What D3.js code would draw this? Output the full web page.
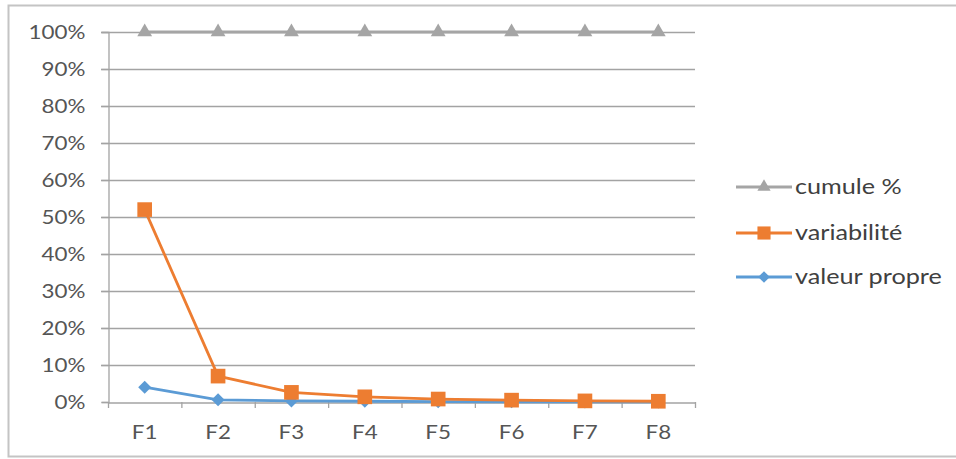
<!DOCTYPE html>
<html>
<head>
<meta charset="utf-8">
<script src="https://cdn.jsdelivr.net/npm/d3@7"></script>
<style>
  html, body { margin: 0; padding: 0; background: #fff; }
  svg { display: block; font-family: Lato, "Open Sans", sans-serif; }
</style>
</head>
<body>
<svg id="chart" width="956" height="459"></svg>
<script>
// Factor labels on the x axis
const categories = ["F1", "F2", "F3", "F4", "F5", "F6", "F7", "F8"];
// Series values, in percent
const cumule = [100, 100, 100, 100, 100, 100, 100, 100];
const variabilite = [52, 7, 2.6, 1.4, 0.8, 0.5, 0.3, 0.2];
const valeurPropre = [4, 0.6, 0.3, 0.2, 0.1, 0.05, 0.03, 0.02];
// Y-axis tick values
const yTicks = [0, 10, 20, 30, 40, 50, 60, 70, 80, 90, 100];

const diamond = {
  draw(ctx, size) {
    const r = Math.sqrt(size) / Math.SQRT2;
    ctx.moveTo(0, -r); ctx.lineTo(r, 0); ctx.lineTo(0, r); ctx.lineTo(-r, 0); ctx.closePath();
  }
};

const series = [
  { name: "cumule %", values: cumule, color: "#A5A5A5", symbol: d3.symbolTriangle, size: 95 },
  { name: "variabilité", values: variabilite, color: "#ED7D31", symbol: d3.symbolSquare, size: 215 },
  { name: "valeur propre", values: valeurPropre, color: "#5B9BD5", symbol: diamond, size: 85 }
];

const svg = d3.select("#chart");

// Horizontal stretch applied to text around its anchor point
function stretch(sel, s) {
  sel.attr("transform", function () {
    const x0 = +this.getAttribute("x") || 0;
    return `translate(${x0 * (1 - s)},0) scale(${s},1)`;
  });
}

// Outer chart frame
svg.append("rect")
  .attr("x", 8.5).attr("y", 5.5)
  .attr("width", 960).attr("height", 451)
  .attr("fill", "#fff")
  .attr("stroke", "#c4c4c4").attr("stroke-width", 2);

const plotLeft = 108, plotRight = 695, plotTop = 32, plotBottom = 402;

const x = d3.scaleBand().domain(categories).range([plotLeft, plotRight]);
const y = d3.scaleLinear().domain([0, 100]).range([plotBottom, plotTop]);

const axisColor = "#a3a3a3";
const textColor = "#555555";

// Horizontal gridlines
svg.append("g")
  .selectAll("line")
  .data(yTicks.filter(d => d > 0))
  .join("line")
  .attr("x1", plotLeft - 7).attr("x2", plotRight)
  .attr("y1", d => y(d) + 0.5).attr("y2", d => y(d) + 0.5)
  .attr("stroke", axisColor).attr("stroke-width", 1.3);

// Y axis
const yAxis = svg.append("g")
  .attr("transform", `translate(${plotLeft + 0.5},0)`)
  .call(d3.axisLeft(y).tickValues(yTicks).tickFormat(d => d + "%").tickSize(7).tickPadding(16));
yAxis.select(".domain").attr("stroke", axisColor).attr("stroke-width", 1.3);
yAxis.selectAll(".tick line").attr("stroke", axisColor).attr("stroke-width", 1.3);
yAxis.selectAll(".tick text")
  .attr("fill", textColor).attr("font-size", 20).attr("font-family", "Lato, sans-serif")
  .call(stretch, 1.12);

// X axis
const xAxis = svg.append("g")
  .attr("transform", `translate(0,${plotBottom + 0.5})`)
  .call(d3.axisBottom(x).tickSize(0).tickPadding(22));
xAxis.select(".domain").attr("stroke", axisColor).attr("stroke-width", 1.3);
xAxis.selectAll(".tick text")
  .attr("fill", textColor).attr("font-size", 20).attr("font-family", "Lato, sans-serif")
  .call(stretch, 1.12);

// Small ticks between categories
svg.append("g")
  .selectAll("line")
  .data(categories.map(c => x(c)).concat([plotRight]))
  .join("line")
  .attr("x1", d => d + 0.5).attr("x2", d => d + 0.5)
  .attr("y1", plotBottom).attr("y2", plotBottom + 6)
  .attr("stroke", axisColor).attr("stroke-width", 1.3);

const cx = c => x(c) + x.bandwidth() / 2;

// Lines and markers (last series drawn first so the orange line sits on top)
[...series].reverse().forEach(s => {
  const g = svg.append("g");
  const line = d3.line().x((d, i) => cx(categories[i])).y(d => y(d));
  g.append("path")
    .datum(s.values)
    .attr("d", line)
    .attr("fill", "none")
    .attr("stroke", s.color)
    .attr("stroke-width", 2.8)
    .attr("stroke-linejoin", "round");
  g.selectAll("path.m")
    .data(s.values)
    .join("path")
    .attr("class", "m")
    .attr("d", d3.symbol().type(s.symbol).size(s.size))
    .attr("transform", (d, i) => `translate(${cx(categories[i])},${y(d)})`)
    .attr("fill", s.color);
});

// Legend
const legendY = [187, 233, 277];
const leg = svg.append("g");
series.forEach((s, i) => {
  const g = leg.append("g").attr("transform", `translate(0,${legendY[i]})`);
  g.append("line")
    .attr("x1", 736).attr("x2", 792).attr("y1", 0).attr("y2", 0)
    .attr("stroke", s.color).attr("stroke-width", 2.8);
  g.append("path")
    .attr("d", d3.symbol().type(s.symbol).size(s.size * 0.8))
    .attr("transform", "translate(764,0)")
    .attr("fill", s.color);
  g.append("text")
    .attr("x", 795).attr("y", 0).attr("dy", "0.35em")
    .attr("fill", "#404040").attr("font-size", 21)
    .text(s.name)
    .call(stretch, 1.2);
});
</script>
</body>
</html>
